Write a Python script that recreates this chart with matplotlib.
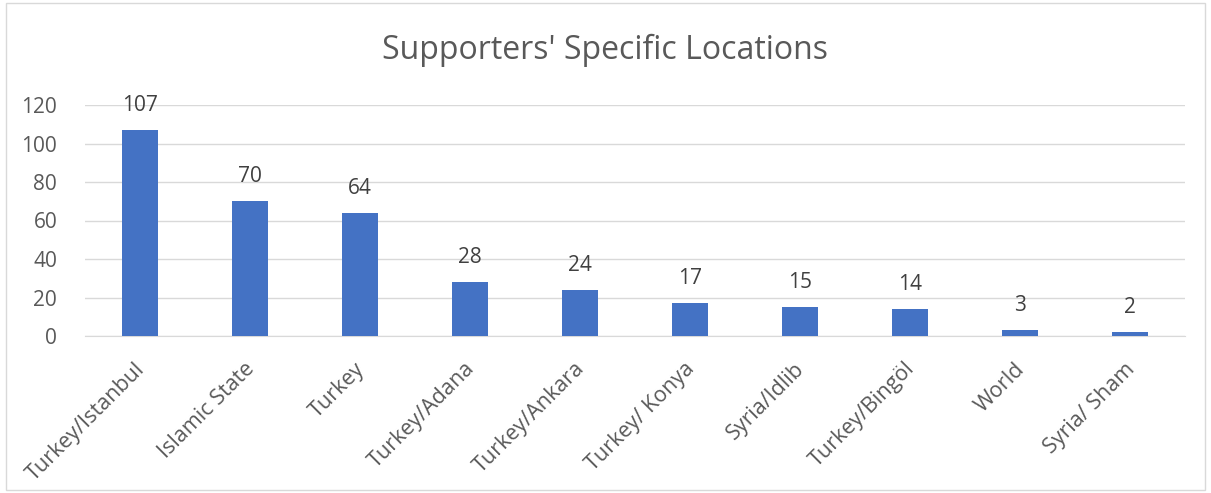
import matplotlib
matplotlib.use("Agg")
import matplotlib.pyplot as plt
from matplotlib.patches import Rectangle
from matplotlib.transforms import ScaledTranslation

categories = ["Turkey/Istanbul", "Islamic State", "Turkey", "Turkey/Adana", "Turkey/Ankara",
              "Turkey/ Konya", "Syria/Idlib", "Turkey/Bingöl", "World", "Syria/ Sham"]
values = [107, 70, 64, 28, 24, 17, 15, 14, 3, 2]
yticks = [0, 20, 40, 60, 80, 100, 120]

plt.rcParams['font.family'] = ['Open Sans', 'DejaVu Sans']
text_color = '#595959'

fig = plt.figure(figsize=(12.11, 4.93), dpi=100)
fig.patches.append(Rectangle((0.005, 0.006), 0.99, 0.988, transform=fig.transFigure,
                             fill=False, edgecolor='#d9d9d9', linewidth=1.0))
ax = fig.add_axes([85/1211, 1-336/493, 1100/1211, (336-105)/493])

x = list(range(len(categories)))
bars = ax.bar(x, values, width=0.32, color='#4472C4', zorder=3)
for xi, v in zip(x, values):
    ax.annotate(str(v), (xi, v), xytext=(0, 10), textcoords='offset points',
                ha='center', va='bottom', fontsize=15, color='#404040')

ax.set_xlim(-0.5, len(categories) - 0.5)
ax.set_ylim(0, 120)
ax.set_yticks(yticks)
ax.set_yticklabels([str(t) for t in yticks], fontsize=15, color=text_color)
ax.set_xticks(x)
ax.set_xticklabels(categories, rotation=45, ha='right', va='top', rotation_mode='anchor',
                   fontsize=15.5, color=text_color)
ax.tick_params(axis='both', length=0)
ax.tick_params(axis='x', pad=14)
ax.tick_params(axis='y', pad=20)
off = ScaledTranslation(-6/100, -3/100, fig.dpi_scale_trans)
for lbl in ax.get_xticklabels():
    lbl.set_transform(lbl.get_transform() + off)
ax.grid(axis='y', color='#d9d9d9', linewidth=1, zorder=0)
for s in ['top', 'right', 'left']:
    ax.spines[s].set_visible(False)
ax.spines['bottom'].set_color('#d9d9d9')

fig.text(0.5, 1 - 50/493, "Supporters' Specific Locations", ha='center', va='center',
         fontsize=23, color=text_color)

fig.savefig("out.png", dpi=100)
